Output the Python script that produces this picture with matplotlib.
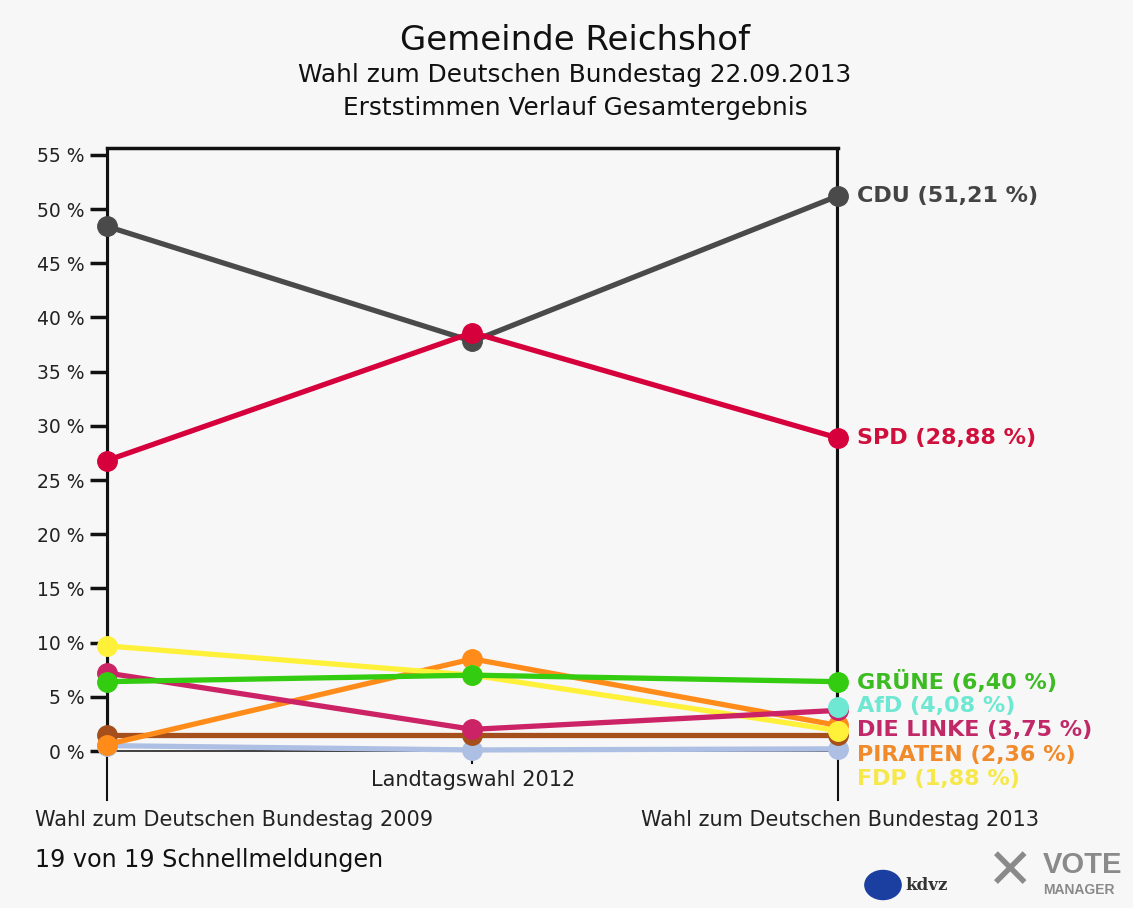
import numpy as np
import matplotlib.pyplot as plt
from matplotlib.patches import Circle

elections = ['Wahl zum Deutschen Bundestag 2009', 'Landtagswahl 2012',
             'Wahl zum Deutschen Bundestag 2013']

# party values per election (None = did not run)
cdu = [48.4, 37.8, 51.21]
spd = [26.8, 38.6, 28.88]
gruene = [6.4, 7.0, 6.40]
fdp = [9.7, 7.0, 1.88]
linke = [7.2, 2.0, 3.75]
piraten = [0.6, 8.5, 2.36]
afd = [None, None, 4.08]
sonstige_a = [1.5, 1.5, 1.5]
sonstige_b = [0.5, 0.1, 0.2]

series = [
    ('', sonstige_b, '#aebfe4', '#aebfe4'),
    ('', sonstige_a, '#a5501c', '#a5501c'),
    ('PIRATEN', piraten, '#ff8c1a', '#f08a2a'),
    ('FDP', fdp, '#fff03a', '#f6e84a'),
    ('DIE LINKE', linke, '#cc2266', '#c02868'),
    ('GRÜNE', gruene, '#33cc11', '#3cbb22'),
    ('AfD', afd, '#6ee8d2', '#6ee8d2'),
    ('CDU', cdu, '#4a4a4a', '#444444'),
    ('SPD', spd, '#d6003c', '#d0103c'),
]

# label y positions (in %) on the right, spread to avoid overlap
label_y = {'CDU': 51.21, 'SPD': 28.88, 'GRÜNE': 6.40, 'AfD': 4.2,
           'DIE LINKE': 1.95, 'PIRATEN': -0.35, 'FDP': -2.6}

FONT = 'DejaVu Sans'
bg = '#f7f7f7'
fig = plt.figure(figsize=(11.33, 9.08), dpi=100, facecolor=bg)
ax = fig.add_axes([0.0944, 0.1189, 0.6452, 0.7181], facecolor=bg)

x = np.arange(len(elections))
ax.axhline(0, color='#222222', lw=1.2, zorder=1)
ax.plot([1, 1], [0, -1.1], color='#111111', lw=1.5, clip_on=False)

for name, vals, col, tcol in series:
    xs = [xi for xi, v in zip(x, vals) if v is not None]
    ys = [v for v in vals if v is not None]
    ax.plot(xs, ys, color=col, lw=3.8, marker='o', ms=14, clip_on=False, zorder=3)
    if name:
        ax.text(2.053, label_y[name], f'{name} ({ys[-1]:.2f} %)'.replace('.', ','),
                color=tcol, fontsize=16, fontweight='bold', family=FONT,
                va='center', ha='left', clip_on=False)

ax.set_xlim(0, 2)
ax.set_ylim(-4.52, 55.63)
ax.set_yticks(np.arange(0, 56, 5))
ax.set_yticklabels([f'{v} %' for v in range(0, 56, 5)], fontsize=13.5,
                   family=FONT, color='#222222')
ax.tick_params(axis='y', length=12, width=2.5, color='#111111', pad=4)
ax.set_xticks([])
for s in ['left', 'right', 'top']:
    ax.spines[s].set_color('#111111')
ax.spines['top'].set_linewidth(2.5)
ax.spines['left'].set_linewidth(1.5)
ax.spines['right'].set_linewidth(1.5)
ax.spines['bottom'].set_visible(False)
ax.plot([0, 0], [0, 55.63], color='#111111', lw=3, zorder=2)
ax.plot([2, 2], [0, 55.63], color='#111111', lw=3, zorder=2)

# x labels
fig.text(234 / 1133, 1 - 820 / 908, elections[0], ha='center', va='center',
         fontsize=15, family=FONT, color='#222222')
fig.text(473 / 1133, 1 - 780 / 908, elections[1], ha='center', va='center',
         fontsize=15, family=FONT, color='#222222')
fig.text(840 / 1133, 1 - 820 / 908, elections[2], ha='center', va='center',
         fontsize=15, family=FONT, color='#222222')

# titles
fig.text(575 / 1133, 1 - 40 / 908, 'Gemeinde Reichshof', ha='center', va='center',
         fontsize=24.5, family=FONT, color='#111111')
fig.text(575 / 1133, 1 - 75 / 908, 'Wahl zum Deutschen Bundestag 22.09.2013',
         ha='center', va='center', fontsize=17.8, family=FONT, color='#111111')
fig.text(575 / 1133, 1 - 108 / 908, 'Erststimmen Verlauf Gesamtergebnis',
         ha='center', va='center', fontsize=17.8, family=FONT, color='#111111')

fig.text(35 / 1133, 1 - 860 / 908, '19 von 19 Schnellmeldungen', ha='left',
         va='center', fontsize=17.2, family=FONT, color='#111111')

# logos (rough)
fig.patches.append(Circle((883 / 1133, 1 - 885 / 908), 0.016, transform=fig.transFigure,
                          color='#1a3fa0', zorder=5))
fig.text(905 / 1133, 1 - 885 / 908, 'kdvz', fontsize=12, fontweight='bold',
         family='DejaVu Serif', color='#333333', va='center')
fig.text(1010 / 1133, 1 - 873 / 908, '✕', fontsize=40, color='#8a8a8a',
         ha='center', va='center', family=FONT, fontweight='bold')
fig.text(1043 / 1133, 1 - 865 / 908, 'VOTE', fontsize=21, fontweight='bold',
         family='Liberation Sans', color='#8a8a8a', va='center')
fig.text(1043 / 1133, 1 - 890 / 908, 'MANAGER', fontsize=10, fontweight='bold',
         family='Liberation Sans', color='#8a8a8a', va='center')

fig.savefig('out.png', dpi=100, facecolor=bg)
